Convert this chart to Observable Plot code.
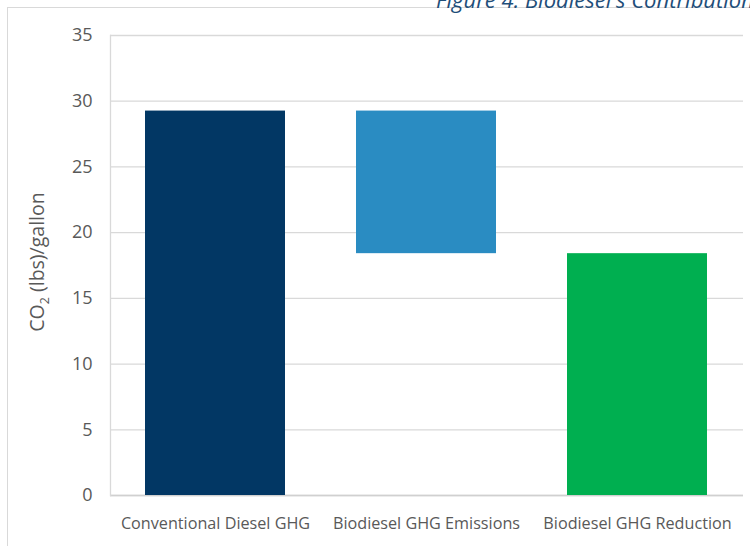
<!DOCTYPE html>
<html>
<head>
<meta charset="utf-8">
<script src="https://cdn.jsdelivr.net/npm/d3@7"></script>
<script src="https://cdn.jsdelivr.net/npm/@observablehq/plot@0.6"></script>
<style>
  html, body { margin: 0; padding: 0; background: #fff; }
  #wrap { position: relative; width: 750px; height: 546px; overflow: hidden; font-family: "Open Sans", sans-serif; }
  #frame { position: absolute; left: 7px; top: 7px; width: 760px; height: 560px; border-left: 1px solid #d9d9d9; border-top: 1px solid #d9d9d9; box-sizing: border-box; }
  #title { position: absolute; left: 436px; top: -12px; font-size: 22px; line-height: 22px; font-style: italic; color: #1f4e79; white-space: nowrap; }
  #chart { position: absolute; left: 0; top: 0; }
</style>
</head>
<body>
<div id="wrap">
  <div id="frame"></div>
  <div id="title">Figure 4: Biodiesel's Contribution</div>
  <div id="chart"></div>
</div>
<script>
const categories = ["Conventional Diesel GHG", "Biodiesel GHG Emissions", "Biodiesel GHG Reduction"];
const barBase = [0, 18.4, 0];
const barTop = [29.25, 29.25, 18.4];
const barColors = ["#023764", "#2a8cc2", "#00af50"];
const yTicks = [0, 5, 10, 15, 20, 25, 30, 35];

const data = categories.map((c, i) => ({category: c, y1: barBase[i], y2: barTop[i], color: barColors[i]}));

const chart = Plot.plot({
  width: 750,
  height: 546,
  marginLeft: 110,
  marginRight: 7,
  marginTop: 35,
  marginBottom: 51,
  style: {fontFamily: "Open Sans, sans-serif", color: "#595959", background: "transparent", overflow: "visible"},
  x: {domain: categories, paddingInner: 0.336, paddingOuter: 0.168, label: null},
  y: {domain: [0, 35], label: null},
  marks: [
    Plot.gridY(yTicks, {stroke: "#d9d9d9", strokeOpacity: 1, strokeWidth: 1.3}),
    Plot.ruleY([0], {stroke: "#d0d0d0", strokeWidth: 1.5}),
    Plot.frame({anchor: "left", stroke: "#d9d9d9", strokeWidth: 1.3}),
    Plot.barY(data, {x: "category", y1: "y1", y2: "y2", fill: "color"}),
    Plot.axisY(yTicks, {tickSize: 0, tickPadding: 18, fontSize: 18, label: null}),
    Plot.axisX({tickSize: 0, tickPadding: 22, fontSize: 16.2, label: null})
  ]
});

const svg = d3.select(chart);
const lbl = svg.append("text")
  .attr("transform", "translate(44,262) rotate(-90)")
  .attr("text-anchor", "middle")
  .attr("fill", "#595959")
  .attr("font-family", "Open Sans, sans-serif")
  .attr("font-size", 19.5);
lbl.append("tspan").text("CO");
lbl.append("tspan").attr("font-size", 12.5).attr("dy", 5).text("2");
lbl.append("tspan").attr("dy", -5).text(" (lbs)/gallon");

document.getElementById("chart").appendChild(chart);
</script>
</body>
</html>
